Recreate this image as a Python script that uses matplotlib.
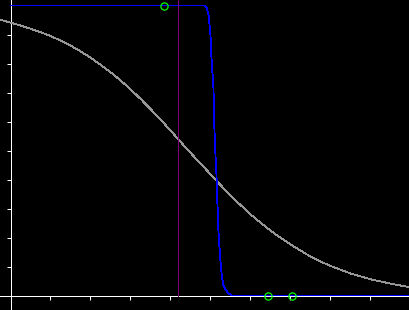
import matplotlib
matplotlib.use("Agg")
import matplotlib.pyplot as plt

# Gray descending curve
gray_x = [-0.25, 0, 0.25, 0.5, 0.75, 1, 1.25, 1.5, 1.75, 2, 2.25, 2.5, 2.75, 3, 3.25,
          3.5, 3.75, 4, 4.25, 4.5, 4.75, 5, 5.25, 5.5, 5.75, 6, 6.25, 6.5, 6.75, 7,
          7.25, 7.5, 7.75, 8, 8.5, 9, 9.5, 10]
gray_y = [0.951, 0.941, 0.931, 0.920, 0.908, 0.895, 0.879, 0.862, 0.842, 0.820, 0.796,
          0.770, 0.742, 0.711, 0.678, 0.643, 0.607, 0.569, 0.530, 0.492, 0.455, 0.418,
          0.381, 0.345, 0.312, 0.280, 0.251, 0.224, 0.199, 0.176, 0.155, 0.134, 0.117,
          0.102, 0.076, 0.056, 0.041, 0.028]

# Blue steep step curve
blue_x = [0, 4.85, 4.9, 4.95, 4.975, 5.0, 5.025, 5.075, 5.0875, 5.1125, 5.15, 5.175,
          5.2, 5.225, 5.25, 5.275, 5.3, 5.325, 5.375, 5.45, 5.525, 10]
blue_y = [1.0, 1.0, 0.993, 0.969, 0.934, 0.897, 0.817, 0.714, 0.621, 0.517, 0.414, 0.31,
          0.217, 0.166, 0.117, 0.079, 0.052, 0.034, 0.021, 0.007, 0.0, 0.0]

# Vertical marker line
vline_x = 4.19

# Green open circles
pts_x = [3.83, 6.43, 7.03]
pts_y = [1.0, 0.0, 0.0]

x_ticks = [1, 2, 3, 4, 5, 6, 7, 8, 9]
y_ticks = [0.1, 0.2, 0.3, 0.4, 0.5, 0.6, 0.7, 0.8, 0.9]

fig = plt.figure(figsize=(4.1, 3.1), dpi=100, facecolor="black")
ax = fig.add_axes([0, 0, 1, 1], facecolor="black")

px = 0.6
ax.plot(gray_x, gray_y, color="#969696", lw=px, zorder=3, clip_on=False,
        antialiased=False)
ax.plot(blue_x, blue_y, color="#0000ff", lw=px, zorder=3.5, clip_on=False,
        antialiased=False)
ax.plot([vline_x, vline_x], [0, 1.02], color="#800080", lw=px, zorder=4,
        antialiased=False)
ax.plot(pts_x, pts_y, linestyle="none", marker="o", markersize=5.2,
        markerfacecolor="none", markeredgecolor="#00ff00", markeredgewidth=0.9,
        zorder=5, clip_on=False)

ax.set_xlim(-10.5 / 40, 399.5 / 40)
ax.set_ylim(-14.5 / 290, 1 + 5.5 / 290)

ax.spines["top"].set_visible(False)
ax.spines["right"].set_visible(False)
ax.spines["left"].set_position(("data", 0))
ax.spines["bottom"].set_position(("data", 0))
for s in ("left", "bottom"):
    ax.spines[s].set_color("white")
    ax.spines[s].set_linewidth(0.72)
    ax.spines[s].set_antialiased(False)

ax.set_xticks(x_ticks)
ax.set_yticks(y_ticks)
ax.tick_params(colors="white", length=3, width=0.72, direction="out",
               labelbottom=False, labelleft=False)

fig.savefig("out.png", dpi=100, facecolor="black")
